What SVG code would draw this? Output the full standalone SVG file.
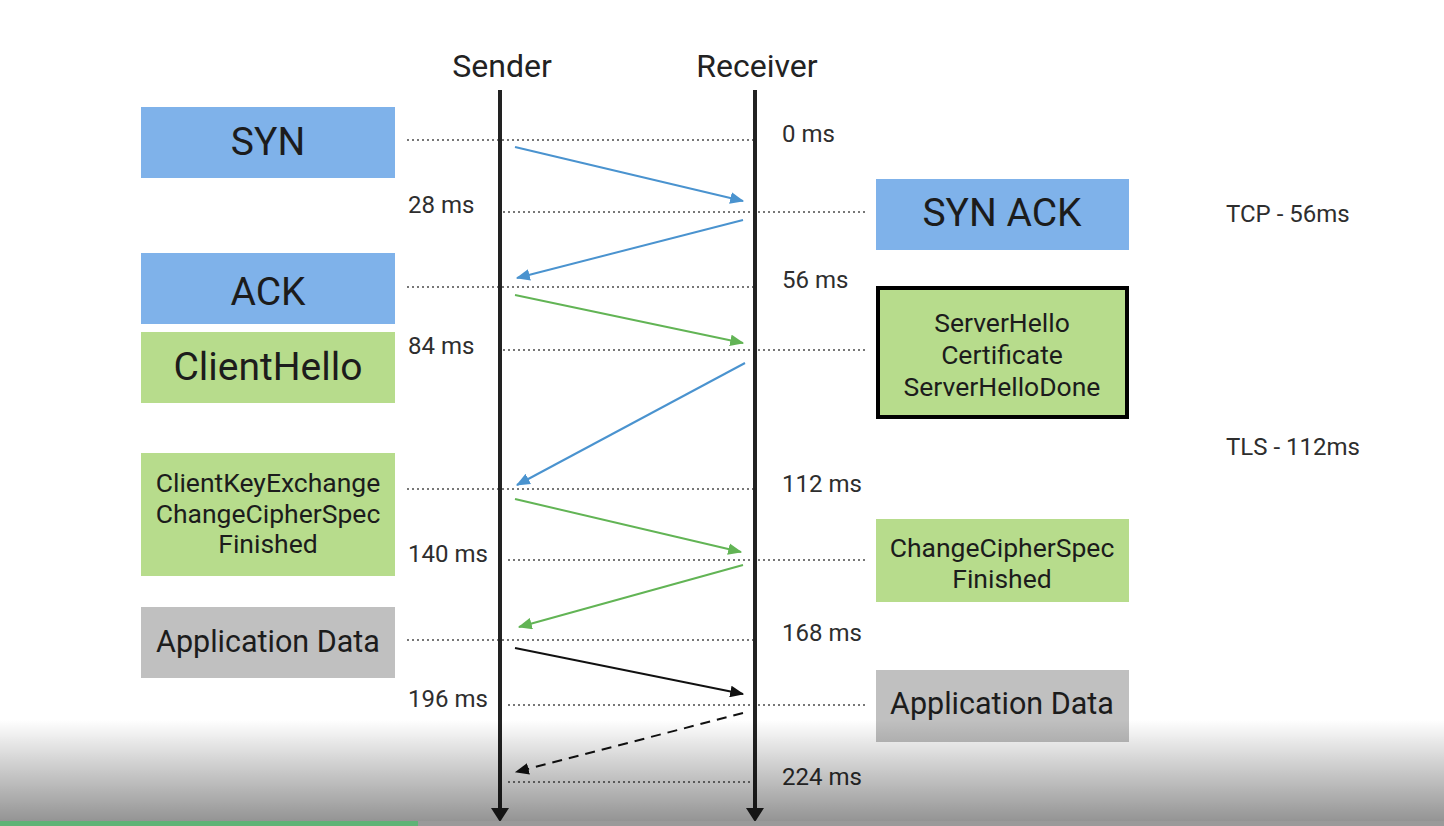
<svg xmlns="http://www.w3.org/2000/svg" width="1444" height="826" viewBox="0 0 1444 826">
<style>
  .t { font-family: Roboto, "Liberation Sans", sans-serif; fill: #1c1c1c; }
  .big { font-size: 39px; text-anchor: middle; }
  .mid { font-size: 30.5px; text-anchor: middle; }
  .sm { font-size: 26.5px; text-anchor: middle; }
  .ms { font-size: 24px; fill: #2e2e2e; }
  .head { font-size: 32px; text-anchor: middle; fill: #222; }
  .blue { fill: #7fb2ea; }
  .green { fill: #b7dc8c; }
  .gray { fill: #c0c0c0; }
  .dot { stroke: #777; stroke-width: 2; stroke-dasharray: 2 3; fill: none; }
  .life { stroke: #222; stroke-width: 4; fill: none; }
  .a-blue { stroke: #4a93cf; stroke-width: 2; fill: none; marker-end: url(#mb); }
  .a-green { stroke: #62b455; stroke-width: 2; fill: none; marker-end: url(#mg); }
  .a-black { stroke: #111; stroke-width: 2; fill: none; marker-end: url(#mk); }
</style>
<defs>
  <marker id="mb" viewBox="0 0 12 10" refX="11" refY="5" markerWidth="7" markerHeight="6" orient="auto" markerUnits="strokeWidth"><path d="M0,0 L12,5 L0,10 z" fill="#4a93cf"/></marker>
  <marker id="mg" viewBox="0 0 12 10" refX="11" refY="5" markerWidth="7" markerHeight="6" orient="auto" markerUnits="strokeWidth"><path d="M0,0 L12,5 L0,10 z" fill="#62b455"/></marker>
  <marker id="mk" viewBox="0 0 12 10" refX="11" refY="5" markerWidth="7" markerHeight="6" orient="auto" markerUnits="strokeWidth"><path d="M0,0 L12,5 L0,10 z" fill="#111"/></marker>
  <linearGradient id="shade" x1="0" y1="0" x2="0" y2="1">
    <stop offset="0" stop-color="#000" stop-opacity="0"/>
    <stop offset="1" stop-color="#000" stop-opacity="0.42"/>
  </linearGradient>
</defs>
<rect x="0" y="0" width="1444" height="826" fill="#fff"/>

<g id="headers">
  <text class="t head" x="502" y="77">Sender</text>
  <text class="t head" x="757" y="77">Receiver</text>
</g>

<g id="timeline">
  <line class="dot" x1="407" y1="140" x2="755" y2="140"/>
  <line class="dot" x1="503" y1="212" x2="865" y2="212"/>
  <line class="dot" x1="407" y1="287" x2="755" y2="287"/>
  <line class="dot" x1="503" y1="350" x2="865" y2="350"/>
  <line class="dot" x1="407" y1="489" x2="755" y2="489"/>
  <line class="dot" x1="508" y1="560" x2="865" y2="560"/>
  <line class="dot" x1="407" y1="640" x2="755" y2="640"/>
  <line class="dot" x1="508" y1="705" x2="865" y2="705"/>
  <line class="dot" x1="508" y1="782" x2="755" y2="782"/>
  <text class="t ms" x="782" y="142">0 ms</text>
  <text class="t ms" x="408" y="213">28 ms</text>
  <text class="t ms" x="782" y="288">56 ms</text>
  <text class="t ms" x="408" y="354">84 ms</text>
  <text class="t ms" x="782" y="492">112 ms</text>
  <text class="t ms" x="408" y="562">140 ms</text>
  <text class="t ms" x="782" y="641">168 ms</text>
  <text class="t ms" x="408" y="707">196 ms</text>
  <text class="t ms" x="782" y="785">224 ms</text>
</g>

<g id="lifelines">
  <line class="life" x1="500" y1="90" x2="500" y2="812"/>
  <path d="M491,808 L509,808 L500,822 z" fill="#222"/>
  <line class="life" x1="755" y1="90" x2="755" y2="812"/>
  <path d="M746,808 L764,808 L755,822 z" fill="#222"/>
</g>

<g id="syn"><rect class="blue" x="141" y="107" width="254" height="71"/><text class="t big" x="268" y="155">SYN</text></g>
<g id="ack"><rect class="blue" x="141" y="253" width="254" height="71"/><text class="t big" x="268" y="305">ACK</text></g>
<g id="clienthello"><rect class="green" x="141" y="332" width="254" height="71"/><text class="t big" x="268" y="380">ClientHello</text></g>
<g id="clientkey"><rect class="green" x="141" y="453" width="254" height="123"/>
  <text class="t sm" x="268" y="492">ClientKeyExchange</text>
  <text class="t sm" x="268" y="523">ChangeCipherSpec</text>
  <text class="t sm" x="268" y="553">Finished</text>
</g>
<g id="appdata-left"><rect class="gray" x="141" y="607" width="254" height="71"/><text class="t mid" x="268" y="652">Application Data</text></g>

<g id="synack"><rect class="blue" x="876" y="179" width="253" height="71"/><text class="t big" x="1002" y="226">SYN ACK</text></g>
<g id="serverhello"><rect class="green" x="878" y="288" width="249" height="129" stroke="#000" stroke-width="4"/>
  <text class="t sm" x="1002" y="332">ServerHello</text>
  <text class="t sm" x="1002" y="364">Certificate</text>
  <text class="t sm" x="1002" y="396">ServerHelloDone</text>
</g>
<g id="ccs-right"><rect class="green" x="876" y="519" width="253" height="83"/>
  <text class="t sm" x="1002" y="557">ChangeCipherSpec</text>
  <text class="t sm" x="1002" y="588">Finished</text>
</g>
<g id="appdata-right"><rect class="gray" x="876" y="670" width="253" height="72"/><text class="t mid" x="1002" y="714">Application Data</text></g>

<g id="notes">
  <text class="t ms" x="1226" y="222">TCP - 56ms</text>
  <text class="t ms" x="1226" y="455">TLS - 112ms</text>
</g>

<g id="connectors">
  <line class="a-blue" x1="515" y1="147" x2="743" y2="201"/>
  <line class="a-blue" x1="743" y1="220" x2="517" y2="278"/>
  <line class="a-green" x1="515" y1="295" x2="743" y2="343"/>
  <line class="a-blue" x1="745" y1="363" x2="517" y2="485"/>
  <line class="a-green" x1="515" y1="499" x2="741" y2="552"/>
  <line class="a-green" x1="743" y1="565" x2="519" y2="627"/>
  <line class="a-black" x1="515" y1="648" x2="743" y2="694"/>
  <line class="a-black" x1="743" y1="713" x2="516" y2="772" stroke-dasharray="10 7"/>
</g>

<rect x="0" y="720" width="1444" height="101" fill="url(#shade)"/>
<rect x="0" y="821" width="1444" height="5" fill="#9a9a9a"/>
<rect x="0" y="821" width="418" height="5" fill="#5fb376"/>
</svg>
